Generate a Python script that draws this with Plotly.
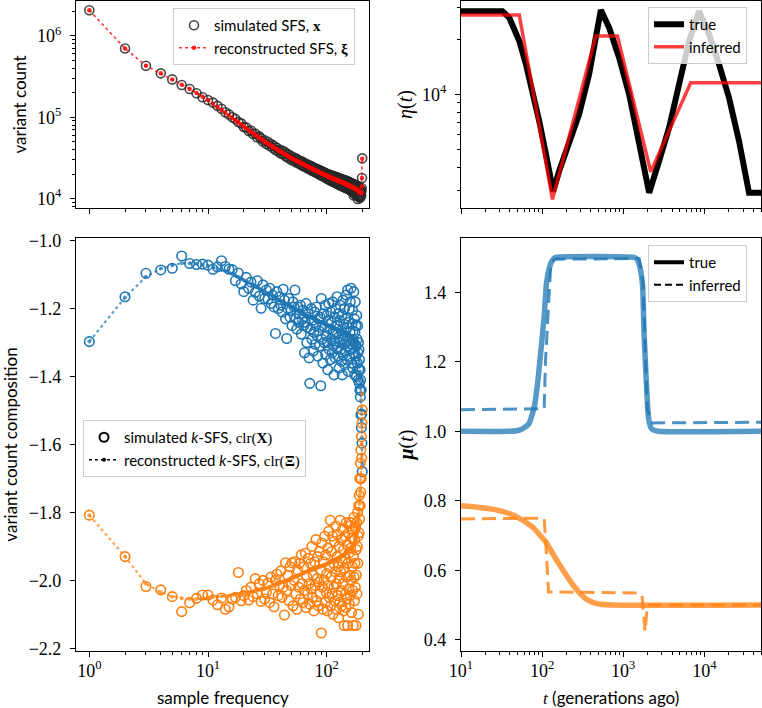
import numpy as np
import plotly.graph_objects as go

# ---------------- data ----------------
freq = list(range(1, 200))  # sample frequency k = 1..199

sfs_sim_log10 = [
 6.314, 5.845, 5.633, 5.539, 5.465, 5.396, 5.347, 5.294, 5.245, 5.212,
 5.180, 5.140, 5.105, 5.062, 5.035, 5.000, 4.978, 4.940, 4.925, 4.880,
 4.875, 4.830, 4.838, 4.795, 4.800, 4.752, 4.765, 4.740, 4.702, 4.718,
 4.672, 4.695, 4.650, 4.670, 4.625, 4.648, 4.598, 4.625, 4.580, 4.600,
 4.555, 4.590, 4.545, 4.575, 4.520, 4.555, 4.505, 4.540, 4.488, 4.522,
 4.472, 4.510, 4.465, 4.495, 4.448, 4.488, 4.440, 4.470, 4.425, 4.462,
 4.415, 4.455, 4.402, 4.440, 4.395, 4.432, 4.385, 4.420, 4.372, 4.415,
 4.365, 4.402, 4.355, 4.398, 4.345, 4.390, 4.338, 4.380, 4.332, 4.372,
 4.322, 4.365, 4.315, 4.360, 4.305, 4.350, 4.298, 4.345, 4.290, 4.338,
 4.282, 4.332, 4.275, 4.325, 4.268, 4.320, 4.262, 4.312, 4.255, 4.305,
 4.245, 4.300, 4.238, 4.295, 4.232, 4.292, 4.225, 4.288, 4.220, 4.285,
 4.215, 4.280, 4.208, 4.275, 4.205, 4.272, 4.198, 4.268, 4.192, 4.265,
 4.188, 4.260, 4.182, 4.258, 4.178, 4.252, 4.172, 4.250, 4.168, 4.245,
 4.162, 4.242, 4.158, 4.238, 4.152, 4.235, 4.150, 4.230, 4.145, 4.228,
 4.140, 4.225, 4.138, 4.222, 4.132, 4.218, 4.130, 4.215, 4.125, 4.212,
 4.122, 4.208, 4.118, 4.205, 4.112, 4.200, 4.108, 4.195, 4.102, 4.192,
 4.098, 4.188, 4.092, 4.185, 4.085, 4.180, 4.078, 4.178, 4.040, 4.172,
 4.070, 4.170, 4.062, 4.165, 4.055, 4.160, 4.050, 4.155, 4.045, 4.150,
 4.040, 4.145, 3.995, 4.138, 4.030, 4.130, 4.025, 4.125, 4.018, 4.118,
 4.010, 4.110, 4.030, 4.100, 4.040, 4.095, 4.130, 4.253, 4.495]

sfs_rec_log10 = [
 6.314, 5.845, 5.633, 5.539, 5.465, 5.400, 5.347, 5.297, 5.252, 5.212,
 5.167, 5.126, 5.089, 5.054, 5.021, 4.991, 4.963, 4.936, 4.910, 4.886,
 4.864, 4.842, 4.822, 4.802, 4.784, 4.766, 4.748, 4.732, 4.715, 4.700,
 4.687, 4.674, 4.662, 4.650, 4.638, 4.627, 4.616, 4.606, 4.595, 4.585,
 4.576, 4.567, 4.558, 4.549, 4.540, 4.532, 4.524, 4.516, 4.508, 4.500,
 4.494, 4.487, 4.481, 4.475, 4.469, 4.463, 4.457, 4.452, 4.446, 4.440,
 4.435, 4.430, 4.425, 4.419, 4.414, 4.409, 4.404, 4.400, 4.395, 4.390,
 4.386, 4.381, 4.377, 4.373, 4.369, 4.365, 4.361, 4.357, 4.353, 4.349,
 4.345, 4.341, 4.338, 4.334, 4.330, 4.327, 4.323, 4.319, 4.316, 4.313,
 4.309, 4.306, 4.302, 4.299, 4.296, 4.293, 4.289, 4.286, 4.283, 4.280,
 4.277, 4.275, 4.272, 4.269, 4.267, 4.264, 4.262, 4.259, 4.257, 4.254,
 4.252, 4.249, 4.247, 4.244, 4.242, 4.240, 4.237, 4.235, 4.233, 4.231,
 4.228, 4.226, 4.224, 4.222, 4.219, 4.217, 4.215, 4.213, 4.211, 4.209,
 4.207, 4.205, 4.203, 4.201, 4.199, 4.197, 4.195, 4.193, 4.191, 4.189,
 4.187, 4.185, 4.183, 4.181, 4.179, 4.177, 4.175, 4.174, 4.172, 4.170,
 4.168, 4.166, 4.163, 4.161, 4.159, 4.157, 4.155, 4.153, 4.151, 4.149,
 4.147, 4.145, 4.143, 4.141, 4.139, 4.137, 4.135, 4.133, 4.131, 4.129,
 4.127, 4.125, 4.123, 4.121, 4.119, 4.117, 4.116, 4.114, 4.112, 4.110,
 4.106, 4.103, 4.100, 4.097, 4.094, 4.091, 4.088, 4.085, 4.082, 4.079,
 4.076, 4.073, 4.070, 4.068, 4.066, 4.075, 4.150, 4.253, 4.490]

clr_blue_sim = [
 -1.297, -1.165, -1.096, -1.086, -1.081, -1.045, -1.067, -1.070, -1.069, -1.072,
 -1.084, -1.077, -1.059, -1.076, -1.084, -1.085, -1.118, -1.095, -1.127, -1.150,
 -1.108, -1.140, -1.122, -1.175, -1.152, -1.118, -1.163, -1.199, -1.130, -1.170,
 -1.145, -1.172, -1.140, -1.185, -1.160, -1.195, -1.273, -1.150, -1.200, -1.165,
 -1.190, -1.210, -1.143, -1.175, -1.230, -1.288, -1.200, -1.170, -1.225, -1.205,
 -1.250, -1.180, -1.195, -1.145, -1.230, -1.260, -1.195, -1.240, -1.215, -1.190,
 -1.275, -1.230, -1.205, -1.250, -1.330, -1.240, -1.185, -1.300, -1.255, -1.215,
 -1.345, -1.420, -1.260, -1.200, -1.290, -1.235, -1.325, -1.270, -1.210, -1.305,
 -1.250, -1.195, -1.280, -1.340, -1.230, -1.265, -1.310, -1.225, -1.427, -1.170,
 -1.290, -1.250, -1.360, -1.215, -1.300, -1.255, -1.190, -1.335, -1.280, -1.220,
 -1.300, -1.380, -1.235, -1.185, -1.320, -1.260, -1.350, -1.210, -1.290, -1.240,
 -1.330, -1.180, -1.275, -1.310, -1.395, -1.225, -1.295, -1.345, -1.200, -1.270,
 -1.315, -1.165, -1.250, -1.340, -1.285, -1.215, -1.375, -1.300, -1.235, -1.190,
 -1.320, -1.265, -1.355, -1.220, -1.395, -1.290, -1.175, -1.335, -1.245, -1.305,
 -1.200, -1.365, -1.280, -1.230, -1.325, -1.160, -1.295, -1.350, -1.255, -1.145,
 -1.310, -1.385, -1.240, -1.295, -1.200, -1.340, -1.270, -1.180, -1.320, -1.140,
 -1.305, -1.360, -1.245, -1.290, -1.205, -1.375, -1.265, -1.330, -1.150, -1.300,
 -1.230, -1.395, -1.270, -1.180, -1.340, -1.250, -1.310, -1.400, -1.220, -1.290,
 -1.360, -1.250, -1.330, -1.410, -1.300, -1.380, -1.320, -1.420, -1.350, -1.440,
 -1.380, -1.460, -1.410, -1.513, -1.440, -1.550, -1.510, -1.596, -1.680]

clr_blue_rec = [
 -1.297, -1.167, -1.106, -1.082, -1.072, -1.066, -1.066, -1.068, -1.071, -1.074,
 -1.078, -1.082, -1.086, -1.089, -1.092, -1.097, -1.102, -1.107, -1.111, -1.115,
 -1.119, -1.123, -1.127, -1.131, -1.134, -1.138, -1.141, -1.144, -1.147, -1.150,
 -1.153, -1.156, -1.158, -1.161, -1.163, -1.166, -1.168, -1.171, -1.173, -1.175,
 -1.177, -1.179, -1.181, -1.184, -1.186, -1.188, -1.189, -1.191, -1.193, -1.195,
 -1.197, -1.198, -1.200, -1.201, -1.203, -1.204, -1.206, -1.207, -1.208, -1.210,
 -1.211, -1.212, -1.214, -1.215, -1.216, -1.217, -1.219, -1.220, -1.221, -1.222,
 -1.223, -1.224, -1.225, -1.226, -1.227, -1.228, -1.229, -1.230, -1.231, -1.232,
 -1.233, -1.234, -1.234, -1.235, -1.236, -1.237, -1.238, -1.239, -1.240, -1.240,
 -1.241, -1.242, -1.243, -1.244, -1.244, -1.245, -1.246, -1.247, -1.247, -1.248,
 -1.249, -1.249, -1.250, -1.251, -1.251, -1.252, -1.252, -1.253, -1.254, -1.254,
 -1.255, -1.255, -1.256, -1.257, -1.257, -1.258, -1.258, -1.259, -1.259, -1.260,
 -1.260, -1.261, -1.262, -1.262, -1.263, -1.263, -1.264, -1.264, -1.265, -1.265,
 -1.266, -1.266, -1.267, -1.267, -1.268, -1.268, -1.269, -1.269, -1.270, -1.270,
 -1.271, -1.271, -1.272, -1.273, -1.274, -1.274, -1.275, -1.276, -1.276, -1.277,
 -1.278, -1.278, -1.279, -1.280, -1.281, -1.281, -1.282, -1.282, -1.283, -1.284,
 -1.284, -1.285, -1.286, -1.286, -1.287, -1.288, -1.288, -1.289, -1.289, -1.290,
 -1.291, -1.292, -1.293, -1.294, -1.295, -1.296, -1.297, -1.298, -1.299, -1.300,
 -1.305, -1.310, -1.315, -1.320, -1.330, -1.340, -1.350, -1.360, -1.370, -1.385,
 -1.400, -1.415, -1.430, -1.450, -1.470, -1.500, -1.530, -1.580, -1.660]

clr_orange_sim = [
 -1.808, -1.930, -2.018, -2.028, -2.048, -2.092, -2.066, -2.053, -2.043, -2.043,
 -2.058, -2.072, -2.052, -2.085, -2.078, -2.055, -2.050, -1.977, -2.060, -2.045,
 -2.030, -2.058, -2.020, -2.048, -1.995, -2.040, -2.010, -2.062, -2.000, -2.055,
 -2.035, -2.008, -2.065, -1.990, -2.040, -2.078, -2.000, -1.982, -2.045, -2.015,
 -1.972, -2.050, -2.020, -2.102, -1.948, -2.030, -1.985, -2.060, -1.960, -2.015,
 -1.948, -2.075, -2.000, -1.945, -2.040, -2.085, -1.970, -2.020, -1.950, -2.055,
 -1.925, -2.010, -2.065, -1.960, -2.030, -1.920, -2.080, -1.990, -2.040, -1.935,
 -2.010, -2.070, -1.950, -2.025, -1.900, -2.050, -1.985, -2.090, -1.945, -2.015,
 -1.880, -2.060, -1.995, -1.930, -2.075, -2.005, -1.915, -2.040, -1.970, -2.155,
 -1.890, -2.020, -2.085, -1.945, -2.000, -1.870, -2.065, -1.925, -2.035, -1.980,
 -2.090, -1.905, -2.015, -1.855, -2.050, -1.960, -1.823, -2.075, -1.990, -1.915,
 -2.040, -1.870, -2.100, -1.950, -2.020, -1.885, -2.060, -1.975, -1.840, -2.010,
 -2.085, -1.930, -1.865, -2.045, -1.960, -2.110, -1.900, -1.995, -2.065, -1.823,
 -1.975, -2.030, -1.880, -2.075, -1.945, -1.850, -2.010, -2.090, -1.910, -2.133,
 -1.965, -1.870, -2.040, -1.935, -2.080, -1.830, -1.990, -2.055, -1.895, -2.133,
 -1.950, -1.860, -2.025, -1.920, -2.070, -1.840, -1.985, -2.045, -1.905, -1.830,
 -2.000, -2.095, -1.875, -1.960, -2.030, -1.850, -2.133, -1.930, -1.815, -1.990,
 -2.060, -1.880, -1.950, -2.020, -1.845, -2.133, -1.910, -1.985, -1.830, -2.040,
 -1.900, -1.800, -1.950, -1.870, -2.100, -1.780, -1.860, -1.750, -1.820, -1.700,
 -1.780, -1.655, -1.740, -1.616, -1.700, -1.577, -1.640, -1.537, -1.498]

clr_orange_rec = [
 -1.808, -1.930, -2.010, -2.035, -2.048, -2.053, -2.055, -2.055, -2.053, -2.050,
 -2.049, -2.048, -2.047, -2.046, -2.045, -2.043, -2.042, -2.041, -2.039, -2.038,
 -2.036, -2.035, -2.034, -2.032, -2.031, -2.030, -2.028, -2.027, -2.026, -2.025,
 -2.023, -2.021, -2.019, -2.018, -2.016, -2.014, -2.013, -2.011, -2.009, -2.008,
 -2.007, -2.005, -2.004, -2.002, -2.001, -2.000, -1.999, -1.997, -1.996, -1.995,
 -1.994, -1.992, -1.991, -1.990, -1.989, -1.987, -1.986, -1.985, -1.984, -1.983,
 -1.981, -1.980, -1.979, -1.978, -1.977, -1.976, -1.975, -1.974, -1.973, -1.972,
 -1.971, -1.970, -1.970, -1.969, -1.968, -1.967, -1.967, -1.966, -1.965, -1.965,
 -1.964, -1.963, -1.962, -1.962, -1.961, -1.960, -1.960, -1.959, -1.959, -1.958,
 -1.957, -1.957, -1.956, -1.955, -1.955, -1.954, -1.954, -1.953, -1.953, -1.952,
 -1.951, -1.950, -1.950, -1.949, -1.948, -1.947, -1.947, -1.946, -1.945, -1.944,
 -1.944, -1.943, -1.942, -1.941, -1.941, -1.940, -1.939, -1.939, -1.938, -1.937,
 -1.937, -1.936, -1.935, -1.935, -1.934, -1.933, -1.933, -1.932, -1.932, -1.931,
 -1.930, -1.930, -1.929, -1.928, -1.928, -1.927, -1.927, -1.926, -1.926, -1.925,
 -1.924, -1.923, -1.922, -1.921, -1.920, -1.919, -1.917, -1.916, -1.915, -1.914,
 -1.913, -1.912, -1.911, -1.910, -1.909, -1.908, -1.907, -1.906, -1.905, -1.904,
 -1.903, -1.902, -1.901, -1.900, -1.900, -1.899, -1.898, -1.897, -1.896, -1.895,
 -1.892, -1.889, -1.885, -1.882, -1.878, -1.875, -1.871, -1.868, -1.864, -1.860,
 -1.855, -1.850, -1.840, -1.830, -1.820, -1.810, -1.800, -1.790, -1.775, -1.760,
 -1.745, -1.730, -1.710, -1.690, -1.670, -1.640, -1.600, -1.540, -1.450]

# eta(t): population size history
eta_true_t = [10, 32.5, 39.4, 52.3, 63.2, 76.2, 92.1, 111.4, 137, 162.4, 215.7, 286.3,
              380, 459.8, 530, 671, 891, 1184, 1573, 2089, 2770, 3680, 4885, 6490,
              8620, 11440, 15190, 20170, 26790, 35570, 50000]
eta_true = [28420, 28420, 26220, 19560, 14590, 10420, 7150, 4720, 2950, 3810, 5350, 7805,
            12910, 20370, 28890, 23120, 15850, 10000, 5560, 2900, 4320, 6570, 11340, 19540,
            28500, 21280, 14590, 9580, 5560, 2900, 2900]
eta_inf_t = [10, 52.3, 134.3, 459.8, 848, 2188, 6800, 50000]
eta_inf = [27130, 27130, 2668, 20830, 20830, 3776, 11570, 11570]

# mu(t): mutation rate history per mutation type
mu_blue_true_t = [10, 40, 52, 60, 69, 80, 88, 96.7, 106, 113, 125, 136, 148, 1361, 1480,
                  1571, 1727, 1808, 1932, 2042, 2180, 2290, 2700, 50000]
mu_blue_true = [1.0, 1.0, 1.003, 1.01, 1.022, 1.07, 1.138, 1.233, 1.329, 1.424, 1.476, 1.494,
                1.5, 1.5, 1.495, 1.481, 1.424, 1.281, 1.138, 1.043, 1.012, 1.005, 1.0, 1.0]
mu_blue_inf_t = [10, 106, 110, 117, 128, 143, 1571, 1758, 1862, 1986, 2290, 50000]
mu_blue_inf = [1.062, 1.065, 1.2, 1.33, 1.48, 1.495, 1.497, 1.424, 1.233, 1.062, 1.024, 1.026]

mu_orange_true_t = [10, 17, 27, 43, 52, 69, 80, 95, 111, 130, 162, 200, 237, 290, 346,
                    420, 505, 738, 50000]
mu_orange_true = [0.786, 0.781, 0.774, 0.76, 0.75, 0.732, 0.72, 0.70, 0.682, 0.655, 0.618,
                  0.585, 0.56, 0.535, 0.518, 0.508, 0.503, 0.5, 0.5]
mu_orange_inf_t = [10, 106, 113, 120, 1571, 1700, 1862, 1990, 50000]
mu_orange_inf = [0.748, 0.750, 0.65, 0.538, 0.535, 0.530, 0.424, 0.50, 0.50]

# axis tick labels
k_ticks = [1, 10, 100]
k_text = ["10<sup>0</sup>", "10<sup>1</sup>", "10<sup>2</sup>"]
t_ticks = [10, 100, 1000, 10000]
t_text = ["10<sup>1</sup>", "10<sup>2</sup>", "10<sup>3</sup>", "10<sup>4</sup>"]
sfs_ticks = [1e4, 1e5, 1e6]
sfs_text = ["10<sup>4</sup>", "10<sup>5</sup>", "10<sup>6</sup>"]
clr_ticks = [-2.2, -2.0, -1.8, -1.6, -1.4, -1.2, -1.0]
clr_text = ["−2.2", "−2.0", "−1.8", "−1.6", "−1.4", "−1.2", "−1.0"]
mu_ticks = [0.4, 0.6, 0.8, 1.0, 1.2, 1.4]
mu_text = ["0.4", "0.6", "0.8", "1.0", "1.2", "1.4"]

# ---------------- style ----------------
W, H = 762, 708
SERIF = "Liberation Serif, DejaVu Serif, serif"
SANS = "Lato, DejaVu Sans, sans-serif"
BLUE = "#1f77b4"
ORANGE = "#ff7f0e"


def px(x):
    return x / W


def py(y):
    return 1 - y / H


def sm(s):
    return "<span style=\"font-family:'Liberation Serif'\">" + s + "</span>"


def log_minor(lo, hi):
    # minor tick positions 2..9 x 10^e of a log axis
    return [m * 10.0 ** e for e in range(lo, hi + 1) for m in range(2, 10)]


fig = go.Figure()

# top-left: SFS
fig.add_trace(go.Scatter(x=freq, y=10 ** np.array(sfs_sim_log10), mode="markers",
                         marker=dict(symbol="circle-open", size=9, color="rgba(40,40,40,0.85)",
                                     line=dict(width=1.6)),
                         name="simulated SFS, " + sm("<b>x</b>"), xaxis="x", yaxis="y",
                         legend="legend"))
fig.add_trace(go.Scatter(x=freq, y=10 ** np.array(sfs_rec_log10), mode="lines+markers",
                         line=dict(color="rgba(255,0,0,0.8)", width=1.6, dash="dot"),
                         marker=dict(size=4.5, color="rgba(255,0,0,0.85)"),
                         name="reconstructed SFS, " + sm("<b>ξ</b>"), xaxis="x", yaxis="y",
                         legend="legend"))

# bottom-left: k-SFS composition
for sim, col in ((clr_blue_sim, BLUE), (clr_orange_sim, ORANGE)):
    fig.add_trace(go.Scatter(x=freq, y=sim, mode="markers",
                             marker=dict(symbol="circle-open", size=9.5, color=col,
                                         line=dict(width=1.6)),
                             showlegend=False, xaxis="x3", yaxis="y3"))
for rec, col in ((clr_blue_rec, "rgba(31,119,180,0.7)"), (clr_orange_rec, "rgba(255,127,14,0.7)")):
    fig.add_trace(go.Scatter(x=freq, y=rec, mode="lines+markers",
                             line=dict(color=col, width=2.2, dash="dot"),
                             marker=dict(size=4, color=col),
                             showlegend=False, xaxis="x3", yaxis="y3"))
fig.add_trace(go.Scatter(x=[None], y=[None], mode="markers",
                         marker=dict(symbol="circle-open", size=9, color="black", line=dict(width=2)),
                         name="simulated <i>k</i>-SFS, " + sm("clr(<b>X</b>)"),
                         xaxis="x3", yaxis="y3", legend="legend2"))
fig.add_trace(go.Scatter(x=[None], y=[None], mode="lines+markers",
                         line=dict(color="black", width=1.6, dash="dot"),
                         marker=dict(size=4, color="black"),
                         name="reconstructed <i>k</i>-SFS, " + sm("clr(<b>Ξ</b>)"),
                         xaxis="x3", yaxis="y3", legend="legend2"))

# top-right: eta
fig.add_trace(go.Scatter(x=eta_true_t, y=eta_true, mode="lines",
                         line=dict(color="black", width=6), name="true",
                         xaxis="x2", yaxis="y2", legend="legend3"))
fig.add_trace(go.Scatter(x=eta_inf_t, y=eta_inf, mode="lines",
                         line=dict(color="rgba(255,0,0,0.75)", width=3.5), name="inferred",
                         xaxis="x2", yaxis="y2", legend="legend3"))

# bottom-right: mu
for tt, vv, col in ((mu_blue_true_t, mu_blue_true, "rgba(31,119,180,0.75)"),
                    (mu_orange_true_t, mu_orange_true, "rgba(255,127,14,0.75)")):
    fig.add_trace(go.Scatter(x=tt, y=vv, mode="lines", line=dict(color=col, width=5.5,
                             shape="spline", smoothing=0.5),
                             showlegend=False, xaxis="x4", yaxis="y4"))
for tt, vv, col in ((mu_blue_inf_t, mu_blue_inf, "rgba(31,119,180,0.8)"),
                    (mu_orange_inf_t, mu_orange_inf, "rgba(255,127,14,0.8)")):
    fig.add_trace(go.Scatter(x=tt, y=vv, mode="lines", line=dict(color=col, width=3, dash="14px,7px"),
                             showlegend=False, xaxis="x4", yaxis="y4"))
fig.add_trace(go.Scatter(x=[None], y=[None], mode="lines", line=dict(color="black", width=4),
                         name="true", xaxis="x4", yaxis="y4", legend="legend4"))
fig.add_trace(go.Scatter(x=[None], y=[None], mode="lines",
                         line=dict(color="black", width=2, dash="7px,4px"),
                         name="inferred", xaxis="x4", yaxis="y4", legend="legend4"))

# ---------------- axes ----------------
common = dict(showline=True, linecolor="black", linewidth=1.2, mirror=True, ticks="outside",
              ticklen=5, tickwidth=1.1, tickcolor="black", showgrid=False, zeroline=False,
              automargin=False, tickmode="array",
              tickfont=dict(family=SERIF, size=18, color="black"))


def minor(vals):
    return dict(tickmode="array", tickvals=vals, ticks="outside", ticklen=3, tickwidth=0.9,
                tickcolor="black", showgrid=False)


xl = [px(76), px(369)]
xr = [px(461), px(761)]
ytop = [py(208), py(1)]
ybot = [py(651), py(238)]

fig.update_layout(
    width=W, height=H, margin=dict(l=0, r=0, t=0, b=0),
    paper_bgcolor="white", plot_bgcolor="white",
    font=dict(family=SANS, size=15, color="black"),
    xaxis=dict(common, domain=xl, anchor="y", type="log", range=[-0.112, 2.356],
               tickvals=k_ticks, showticklabels=False, minor=minor(log_minor(0, 2))),
    yaxis=dict(common, domain=ytop, anchor="x", type="log", range=[3.885, 6.428],
               tickvals=sfs_ticks, ticktext=sfs_text, minor=minor(log_minor(3, 6)),
               ticklabelstandoff=5,
               title=dict(text="variant count", font=dict(family=SANS, size=17), standoff=6)),
    xaxis3=dict(common, domain=xl, anchor="y3", type="log", range=[-0.112, 2.356],
                tickvals=k_ticks, ticktext=k_text, minor=minor(log_minor(0, 2)),
                ticklabelstandoff=-2),
    yaxis3=dict(common, domain=ybot, anchor="x3", range=[-2.208, -0.992],
                tickvals=clr_ticks, ticktext=clr_text, ticklabelstandoff=5,
                title=dict(text="variant count composition", font=dict(family=SANS, size=17),
                           standoff=14)),
    xaxis2=dict(common, domain=xr, anchor="y2", type="log", range=[1, 4.699],
                tickvals=t_ticks, showticklabels=False, minor=minor(log_minor(1, 4))),
    yaxis2=dict(common, domain=ytop, anchor="x2", type="log", range=[3.379, 4.51],
                tickvals=[1e4], ticktext=["10<sup>4</sup>"], minor=minor(log_minor(3, 4)),
                ticklabelstandoff=5,
                title=dict(text="<i>η</i>(<i>t</i>)", font=dict(family=SERIF, size=20), standoff=4)),
    xaxis4=dict(common, domain=xr, anchor="y4", type="log", range=[1, 4.699],
                tickvals=t_ticks, ticktext=t_text, minor=minor(log_minor(1, 4)),
                ticklabelstandoff=-2),
    yaxis4=dict(common, domain=ybot, anchor="x4", range=[0.368, 1.556],
                tickvals=mu_ticks, ticktext=mu_text, ticklabelstandoff=5,
                title=dict(text="<b><i>μ</i></b>(<i>t</i>)", font=dict(family=SERIF, size=20),
                           standoff=4)),
    annotations=[
        dict(text="sample frequency", x=(xl[0] + xl[1]) / 2, y=py(697), xref="paper",
             yref="paper", showarrow=False, xanchor="center", yanchor="middle",
             font=dict(family=SANS, size=17, color="black")),
        dict(text=sm("<i>t</i>") + " (generations ago)", x=(xr[0] + xr[1]) / 2, y=py(697),
             xref="paper", yref="paper", showarrow=False, xanchor="center", yanchor="middle",
             font=dict(family=SANS, size=17, color="black")),
    ],
)

leg_common = dict(bgcolor="rgba(255,255,255,0.8)", bordercolor="#cccccc", borderwidth=1,
                  font=dict(family=SANS, size=15, color="black"), xanchor="left", yanchor="top",
                  itemsizing="trace", tracegroupgap=2)
fig.update_layout(
    legend=dict(leg_common, x=px(173), y=py(8)),
    legend2=dict(leg_common, x=px(83), y=py(420)),
    legend3=dict(leg_common, x=px(648), y=py(7)),
    legend4=dict(leg_common, x=px(648), y=py(245)),
)

# remove the browser's default 8px page margin so the figure sits at the window origin
fig.write_html("out.html", config={"displayModeBar": False},
               post_script="document.body.style.margin='0';")
